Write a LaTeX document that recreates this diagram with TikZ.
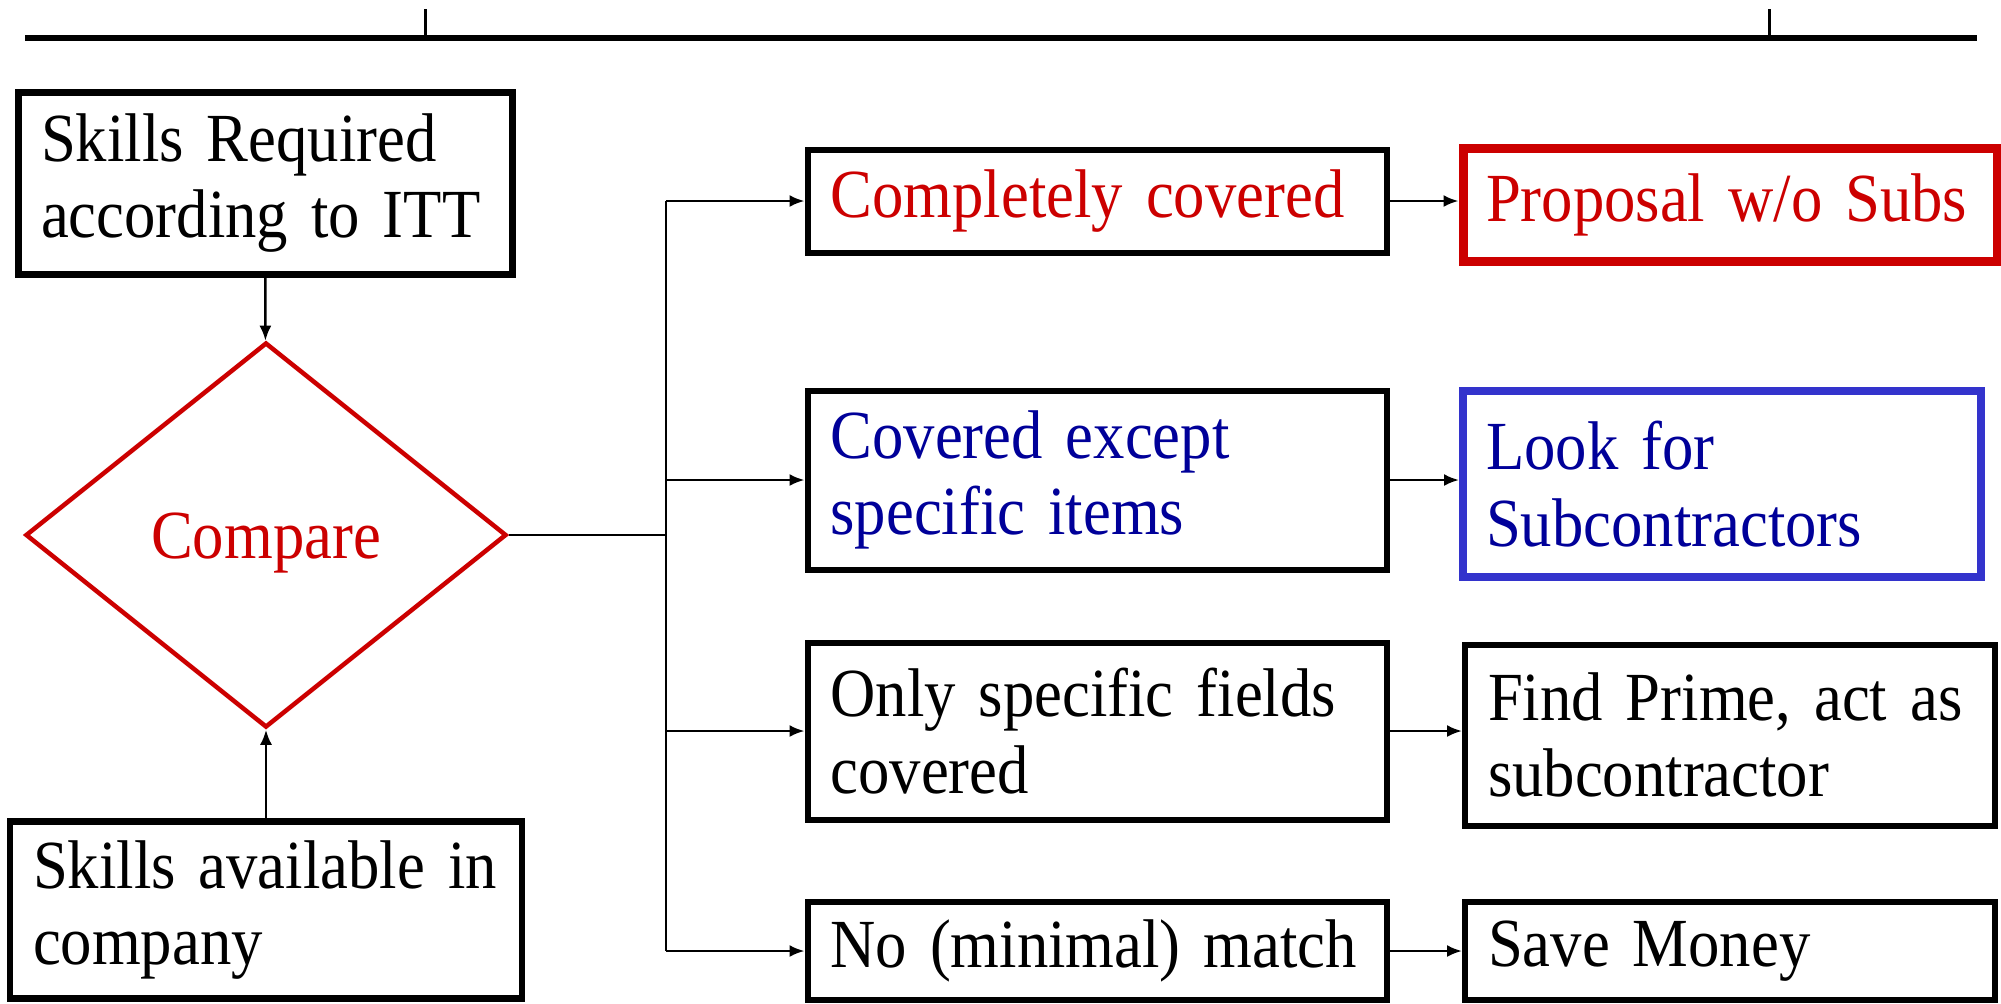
\documentclass[tikz,border=0pt]{standalone}
\usepackage{fontspec}
\setmainfont{Liberation Serif}[FakeStretch=0.91,WordSpace=0.75]
\usetikzlibrary{shapes.geometric,arrows.meta}
\definecolor{darkred}{HTML}{CC0000}
\definecolor{navy}{HTML}{000099}
\definecolor{boxblue}{HTML}{3333CC}

\begin{document}
\begin{tikzpicture}[x=0.1mm,y=-0.1mm,
    font=\fontsize{19.6}{21.8}\selectfont,
    box/.style={draw, line width=0.6mm, inner xsep=2.3mm, inner ysep=0pt, align=left,
        execute at end node={\endgraf\vskip-2mm}},
    link/.style={line width=0.25mm, -{Latex[length=1.5mm,width=1.2mm]}}]
    \useasboundingbox (0,0) rectangle (2001,1003);
    \draw[line width=0.6mm] (25,38) -- (1977,38);
    \draw[line width=0.3mm] (425,9) -- (425,38);
    \draw[line width=0.3mm] (1769,9) -- (1769,38);

    \node[box, line width=0.7mm, text width=44.8mm, minimum height=18.2mm] (req) at (265,183) {Skills Required\\according to ITT};
    \node[draw=darkred, line width=0.45mm, diamond, inner sep=0pt, minimum width=48.1mm, minimum height=38.5mm, text=darkred] (cmp) at (266,535) {\raisebox{-0.8mm}[\height][\depth]{Compare}};
    \node[box, line width=0.65mm, text width=46.6mm, minimum height=17.7mm] (avail) at (266,910) {Skills available in\\company};

    \node[box, text width=53.3mm, minimum height=10.3mm, text=darkred] (b1) at (1097,201) {Completely covered};
    \node[box, text width=53.3mm, minimum height=17.9mm, text=navy] (b2) at (1097,480) {Covered except\\specific items};
    \node[box, text width=53.3mm, minimum height=17.7mm] (b3) at (1097,731) {Only specific fields\\covered};
    \node[box, text width=53.3mm, minimum height=9.8mm] (b4) at (1097,951) {No (minimal) match};

    \node[box, draw=darkred, line width=0.9mm, text width=48.8mm, minimum height=11.3mm, text=darkred] (r1) at (1730,205) {Proposal w/o Subs};
    \node[box, draw=boxblue, line width=0.8mm, text width=47.2mm, minimum height=18.6mm, text=navy] (r2) at (1722,484) {Look for\\Subcontractors};
    \node[box, text width=48.4mm, minimum height=18.1mm] (r3) at (1730,735) {Find Prime, act as\\subcontractor};
    \node[box, text width=48.4mm, minimum height=9.8mm] (r4) at (1730,951) {Save Money};

    \coordinate (fork) at (666,535);
    \draw[link] (req) -- (cmp);
    \draw[link] (avail) -- (cmp);
    \draw[line width=0.25mm] (cmp.east) -- (fork);
    \draw[line width=0.25mm] (fork |- b1.west) -- (fork |- b4.west);
    \foreach \b in {b1,b2,b3,b4}
        \draw[link] (fork |- \b.west) -- (\b.west);
    \draw[link] (b1.east) -- (b1.east -| r1.west);
    \draw[link] (b2.east) -- (b2.east -| r2.west);
    \draw[link] (b3.east) -- (b3.east -| r3.west);
    \draw[link] (b4.east) -- (b4.east -| r4.west);

\end{tikzpicture}
\end{document}
